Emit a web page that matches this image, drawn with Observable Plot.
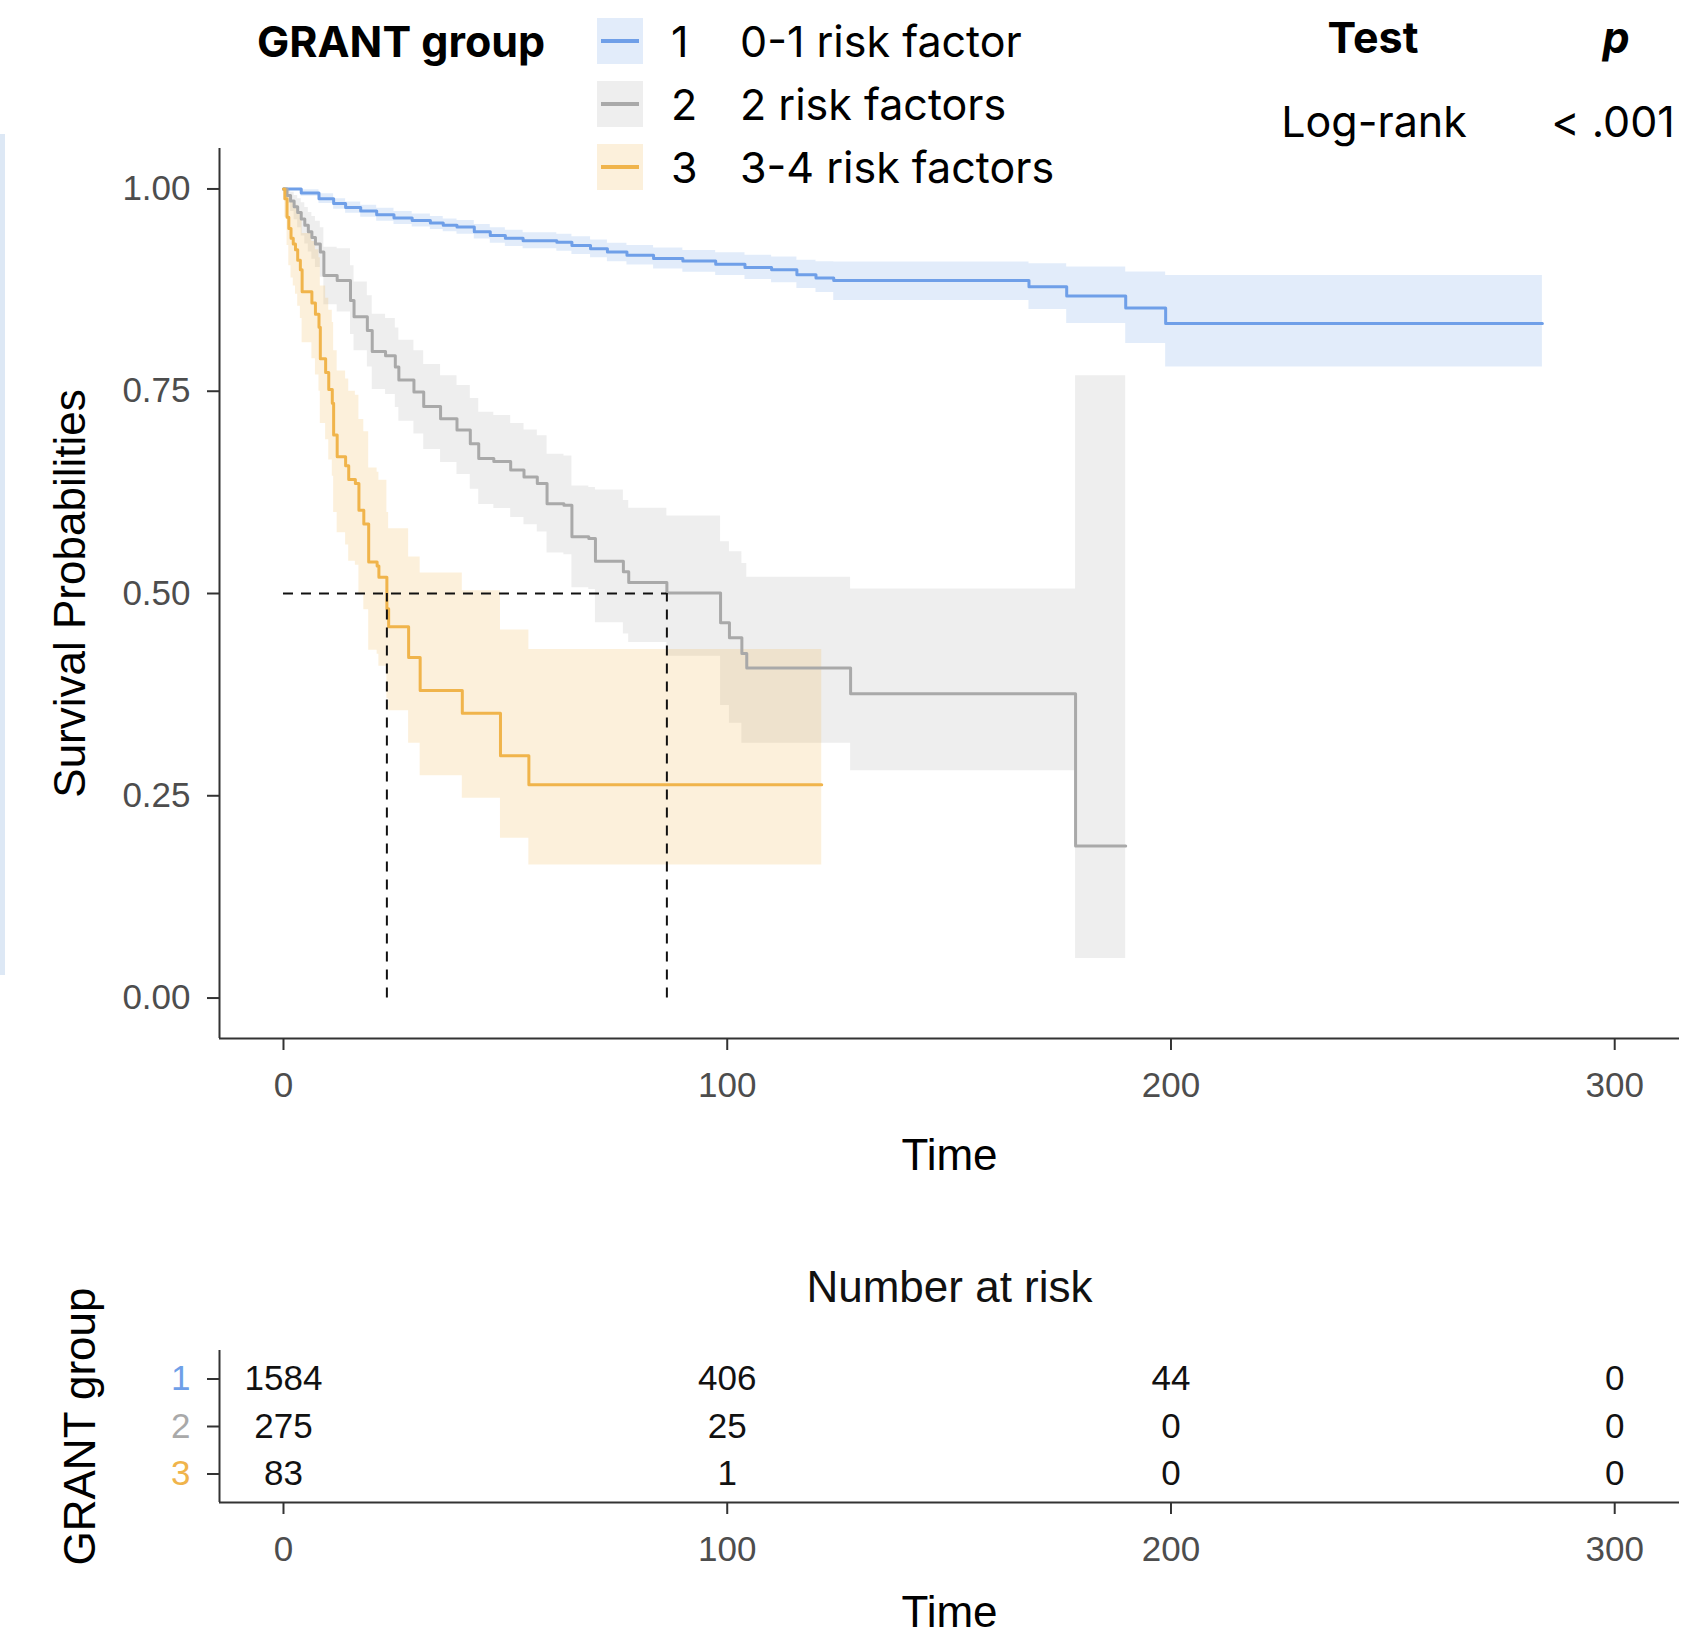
<!DOCTYPE html>
<html>
<head>
<meta charset="utf-8">
<script src="https://cdn.jsdelivr.net/npm/d3@7"></script>
<script src="https://cdn.jsdelivr.net/npm/@observablehq/plot@0.6"></script>
<style>
  html, body { margin: 0; padding: 0; background: #fff; }
  #page { position: relative; width: 1682px; height: 1638px; overflow: hidden; background: #fff; }
  .abs { position: absolute; white-space: nowrap; line-height: 1; }
  .leg { font-family: "Inter", "Noto Sans", sans-serif; font-size: 43px; color: #000; }
  .plotbox { position: absolute; left: 0; }
  .plotbox svg [aria-label$="tick label"] { fill: #4d4d4d; }
  #strip { position: absolute; left: 0; top: 134px; width: 5px; height: 841px; background: #dde8f5; }
</style>
</head>
<body>
<div id="page">
  <div id="strip"></div>
  <div id="mainplot" class="plotbox" style="top:0"></div>
  <div id="riskplot" class="plotbox" style="top:1240px"></div>
  <div id="legend"></div>
</div>
<script>
// ---------- data ----------
const groupIds = ["1", "2", "3"];
const groupLabels = ["0-1 risk factor", "2 risk factors", "3-4 risk factors"];
const lineColors = ["#6f9fe8", "#a9a9a9", "#f0b44b"];
const legendTitle = "GRANT group";
const testName = "Log-rank";
const testP = "< .001";

const blueT  = [0,4,8,11.3,14,17.4,21,24.9,29,33.1,36,39.1,43,46.6,50,54,61.6,65,69.2,73,77.4,83.4,90,97.4,104,110,115.7,120,124,168,176.5,189.8,198.8];
const blueS  = [1,0.995,0.988,0.982,0.977,0.9726,0.968,0.964,0.961,0.958,0.955,0.953,0.947,0.9426,0.939,0.936,0.934,0.930,0.926,0.922,0.918,0.914,0.911,0.907,0.903,0.900,0.894,0.890,0.887,0.879,0.8677,0.853,0.8336];
const blueLo = [1,0.991,0.982,0.975,0.970,0.965,0.960,0.956,0.953,0.950,0.947,0.944,0.938,0.933,0.929,0.926,0.923,0.919,0.915,0.910,0.906,0.901,0.897,0.893,0.888,0.884,0.877,0.872,0.862,0.851,0.8336,0.809,0.78];
const blueHi = [1,0.999,0.994,0.988,0.984,0.980,0.976,0.972,0.969,0.966,0.963,0.961,0.956,0.952,0.949,0.946,0.944,0.941,0.937,0.933,0.930,0.927,0.924,0.921,0.918,0.916,0.912,0.910,0.9097,0.9077,0.9035,0.8973,0.893];

const grayT  = [0,0.8,1.6,2.4,3.2,4.0,4.8,5.6,6.4,7.2,8.3,9.1,12.1,15.1,15.9,18.9,20,23,25.2,26,29.4,31.6,35.4,39.1,42.1,44,47.4,51.2,54.2,57.2,59.4,63.2,65,68.8,70.3,76.6,77.8,86.4,98.5,100.5,103.3,104.4,127.8,178.5];
const grayS  = [1,0.992,0.985,0.978,0.971,0.963,0.955,0.947,0.940,0.932,0.922,0.893,0.887,0.862,0.842,0.825,0.799,0.794,0.78,0.764,0.749,0.731,0.716,0.702,0.685,0.667,0.663,0.6525,0.644,0.636,0.611,0.609,0.570,0.568,0.540,0.527,0.5137,0.5006,0.464,0.4454,0.4258,0.4078,0.376,0.188];
const grayLo = [1,0.982,0.972,0.962,0.952,0.942,0.932,0.922,0.913,0.903,0.891,0.857,0.848,0.82,0.80,0.78,0.752,0.746,0.73,0.713,0.697,0.678,0.662,0.647,0.629,0.61,0.605,0.594,0.585,0.576,0.55,0.548,0.507,0.505,0.464,0.45,0.4395,0.4225,0.3615,0.3395,0.315,0.315,0.281,0.049];
const grayHi = [1,1,0.996,0.992,0.988,0.983,0.977,0.971,0.966,0.960,0.952,0.928,0.926,0.905,0.885,0.868,0.845,0.84,0.828,0.813,0.80,0.783,0.769,0.757,0.741,0.724,0.72,0.71,0.702,0.695,0.672,0.67,0.633,0.631,0.628,0.615,0.6055,0.5957,0.564,0.5517,0.537,0.52,0.5056,0.769];

const orangeT  = [0,0.3,0.8,1.2,1.7,2.2,2.7,3.2,3.8,4.2,6.4,7.2,8.0,8.3,9.5,10.2,11.0,11.3,12.1,14.0,14.7,16.2,17.0,18.1,19.2,21.1,21.5,23.3,23.7,28.2,30.8,40.3,48.9,55.3];
const orangeS  = [1,0.988,0.965,0.951,0.939,0.932,0.925,0.912,0.90,0.873,0.859,0.845,0.829,0.79,0.773,0.752,0.735,0.696,0.669,0.658,0.641,0.636,0.603,0.586,0.539,0.534,0.52,0.481,0.459,0.421,0.380,0.352,0.2995,0.2636];
const orangeLo = [1,0.965,0.93,0.905,0.89,0.88,0.87,0.855,0.84,0.81,0.79,0.77,0.75,0.71,0.69,0.665,0.645,0.60,0.575,0.56,0.54,0.535,0.50,0.48,0.43,0.425,0.41,0.37,0.355,0.315,0.2747,0.247,0.1975,0.1644];
const orangeHi = [1,1,0.995,0.99,0.985,0.983,0.98,0.972,0.965,0.945,0.935,0.925,0.915,0.88,0.865,0.85,0.835,0.80,0.775,0.765,0.75,0.745,0.715,0.70,0.655,0.65,0.64,0.60,0.58,0.545,0.5254,0.5035,0.455,0.4307];

const groupEnd = [283.7, 189.8, 121.3];
const medianTimes = [23.3, 86.4];

const xTicks = [0, 100, 200, 300];
const yTicks = [0, 0.25, 0.5, 0.75, 1];

const riskTimes = [0, 100, 200, 300];
const risk1 = [1584, 406, 44, 0];
const risk2 = [275, 25, 0, 0];
const risk3 = [83, 1, 0, 0];

// ---------- build tables ----------
const series = [
  [blueT, blueS, blueLo, blueHi],
  [grayT, grayS, grayLo, grayHi],
  [orangeT, orangeS, orangeLo, orangeHi]
];
const rows = [];
series.forEach(([T, S, L, H], gi) => {
  T.forEach((t, i) => rows.push({g: groupIds[gi], t, s: S[i], lo: L[i], hi: H[i]}));
  const n = T.length - 1;
  rows.push({g: groupIds[gi], t: groupEnd[gi], s: S[n], lo: L[n], hi: H[n]});
});
const riskRows = [];
[risk1, risk2, risk3].forEach((arr, gi) => arr.forEach((n, i) => riskRows.push({row: gi + 1, t: riskTimes[i], n: String(n)})));

const xDomain = [-14.42, 314.6];
const yDomain = [-0.05, 1.05];
const axisFont = '"Liberation Sans", Arial, sans-serif';
const dash = "10,8";

const main = Plot.plot({
  width: 1682, height: 1200,
  marginLeft: 219, marginRight: 3, marginTop: 148, marginBottom: 162,
  style: {fontFamily: axisFont, fontSize: "35px", background: "transparent"},
  x: {domain: xDomain},
  y: {domain: yDomain},
  color: {domain: groupIds, range: lineColors},
  marks: [
    Plot.areaY(rows, {x: "t", y1: "lo", y2: "hi", fill: "g", z: "g", fillOpacity: 0.2, curve: "step-after"}),
    Plot.line(rows, {x: "t", y: "s", stroke: "g", z: "g", strokeWidth: 3, curve: "step-after"}),
    Plot.ruleX(medianTimes, {x: d => d, y1: 0, y2: 0.5, stroke: "#111", strokeWidth: 2, strokeDasharray: dash}),
    Plot.ruleY([0.5], {y: d => d, x1: 0, x2: d3.max(medianTimes), stroke: "#111", strokeWidth: 2, strokeDasharray: dash}),
    Plot.axisX({ticks: xTicks, tickSize: 12, tickPadding: 22, label: null, fontSize: 35, strokeWidth: 2, stroke: "#333"}),
    Plot.axisY({ticks: yTicks, tickFormat: d3.format(".2f"), tickSize: 12, tickPadding: 17, label: null, fontSize: 35, strokeWidth: 2, stroke: "#333"}),
    Plot.ruleX([xDomain[0]], {x: d => d, stroke: "#333", strokeWidth: 2}),
    Plot.ruleY([yDomain[0]], {y: d => d, stroke: "#333", strokeWidth: 2}),
    Plot.text(["Time"], {text: d => d, frameAnchor: "bottom", dy: 117, lineAnchor: "middle", textAnchor: "middle", fontSize: 44, fill: "#000"}),
    Plot.text(["Survival Probabilities"], {text: d => d, frameAnchor: "left", dx: -149, rotate: -90, textAnchor: "middle", lineAnchor: "middle", fontSize: 44, fill: "#000"})
  ]
});
document.getElementById("mainplot").appendChild(main);

const rowLabelRows = groupIds.map((g, i) => ({g, row: i + 1, c: lineColors[i]}));
const risk = Plot.plot({
  width: 1682, height: 398,
  marginLeft: 219, marginRight: 3, marginTop: 110, marginBottom: 136,
  style: {fontFamily: axisFont, fontSize: "35px", background: "transparent"},
  x: {domain: xDomain},
  y: {domain: [0.4, 3.6], reverse: true},
  marks: [
    Plot.text(riskRows, {x: "t", y: "row", text: "n", fontSize: 35, fill: "#111"}),
    Plot.axisX({ticks: xTicks, tickSize: 12, tickPadding: 22, label: null, fontSize: 35, strokeWidth: 2, stroke: "#333"}),
    Plot.axisY({ticks: [1, 2, 3], tickFormat: () => "", tickSize: 12, label: null, strokeWidth: 2, stroke: "#333"}),
    Plot.text(rowLabelRows, {y: "row", text: "g", frameAnchor: "left", dx: -29, textAnchor: "end", lineAnchor: "middle", fontSize: 35, fill: d => d.c}),
    Plot.ruleX([xDomain[0]], {x: d => d, stroke: "#333", strokeWidth: 2}),
    Plot.ruleY([3.6], {y: d => d, stroke: "#333", strokeWidth: 2}),
    Plot.text(["Number at risk"], {text: d => d, frameAnchor: "top", dy: -63, lineAnchor: "middle", textAnchor: "middle", fontSize: 44, fill: "#111"}),
    Plot.text(["Time"], {text: d => d, frameAnchor: "bottom", dy: 110, lineAnchor: "middle", textAnchor: "middle", fontSize: 44, fill: "#000"}),
    Plot.text([legendTitle], {text: d => d, frameAnchor: "left", dx: -139, rotate: -90, textAnchor: "middle", lineAnchor: "middle", fontSize: 44, fill: "#000"})
  ]
});
document.getElementById("riskplot").appendChild(risk);

// ---------- legend / test table ----------
const legend = document.getElementById("legend");
function addText(txt, left, cy, extra, anchor) {
  const d = document.createElement("div");
  d.className = "abs leg";
  d.textContent = txt;
  d.style.left = left + "px";
  d.style.top = cy + "px";
  d.style.transform = anchor === "center" ? "translate(-50%,-50%)" : "translateY(-50%)";
  if (extra) Object.assign(d.style, extra);
  legend.appendChild(d);
  return d;
}
addText(legendTitle, 257, 41, {fontWeight: "700"});
const rowY = [41, 104, 167];
groupIds.forEach((g, i) => {
  const sw = document.createElementNS("http://www.w3.org/2000/svg", "svg");
  sw.setAttribute("width", 46); sw.setAttribute("height", 46);
  sw.style.position = "absolute"; sw.style.left = "597px"; sw.style.top = (rowY[i] - 23) + "px";
  const r = document.createElementNS("http://www.w3.org/2000/svg", "rect");
  r.setAttribute("width", 46); r.setAttribute("height", 46);
  r.setAttribute("fill", lineColors[i]); r.setAttribute("fill-opacity", 0.2);
  const l = document.createElementNS("http://www.w3.org/2000/svg", "line");
  l.setAttribute("x1", 4); l.setAttribute("x2", 42); l.setAttribute("y1", 23); l.setAttribute("y2", 23);
  l.setAttribute("stroke", lineColors[i]); l.setAttribute("stroke-width", 4);
  sw.appendChild(r); sw.appendChild(l);
  legend.appendChild(sw);
  addText(g, 671, rowY[i]);
  addText(groupLabels[i], 740, rowY[i]);
});
addText("Test", 1373, 37, {fontWeight: "700"}, "center");
addText("p", 1616, 37, {fontWeight: "700", fontStyle: "italic"}, "center");
addText(testName, 1374, 121, null, "center");
addText(testP, 1613, 121, null, "center");
</script>
</body>
</html>
